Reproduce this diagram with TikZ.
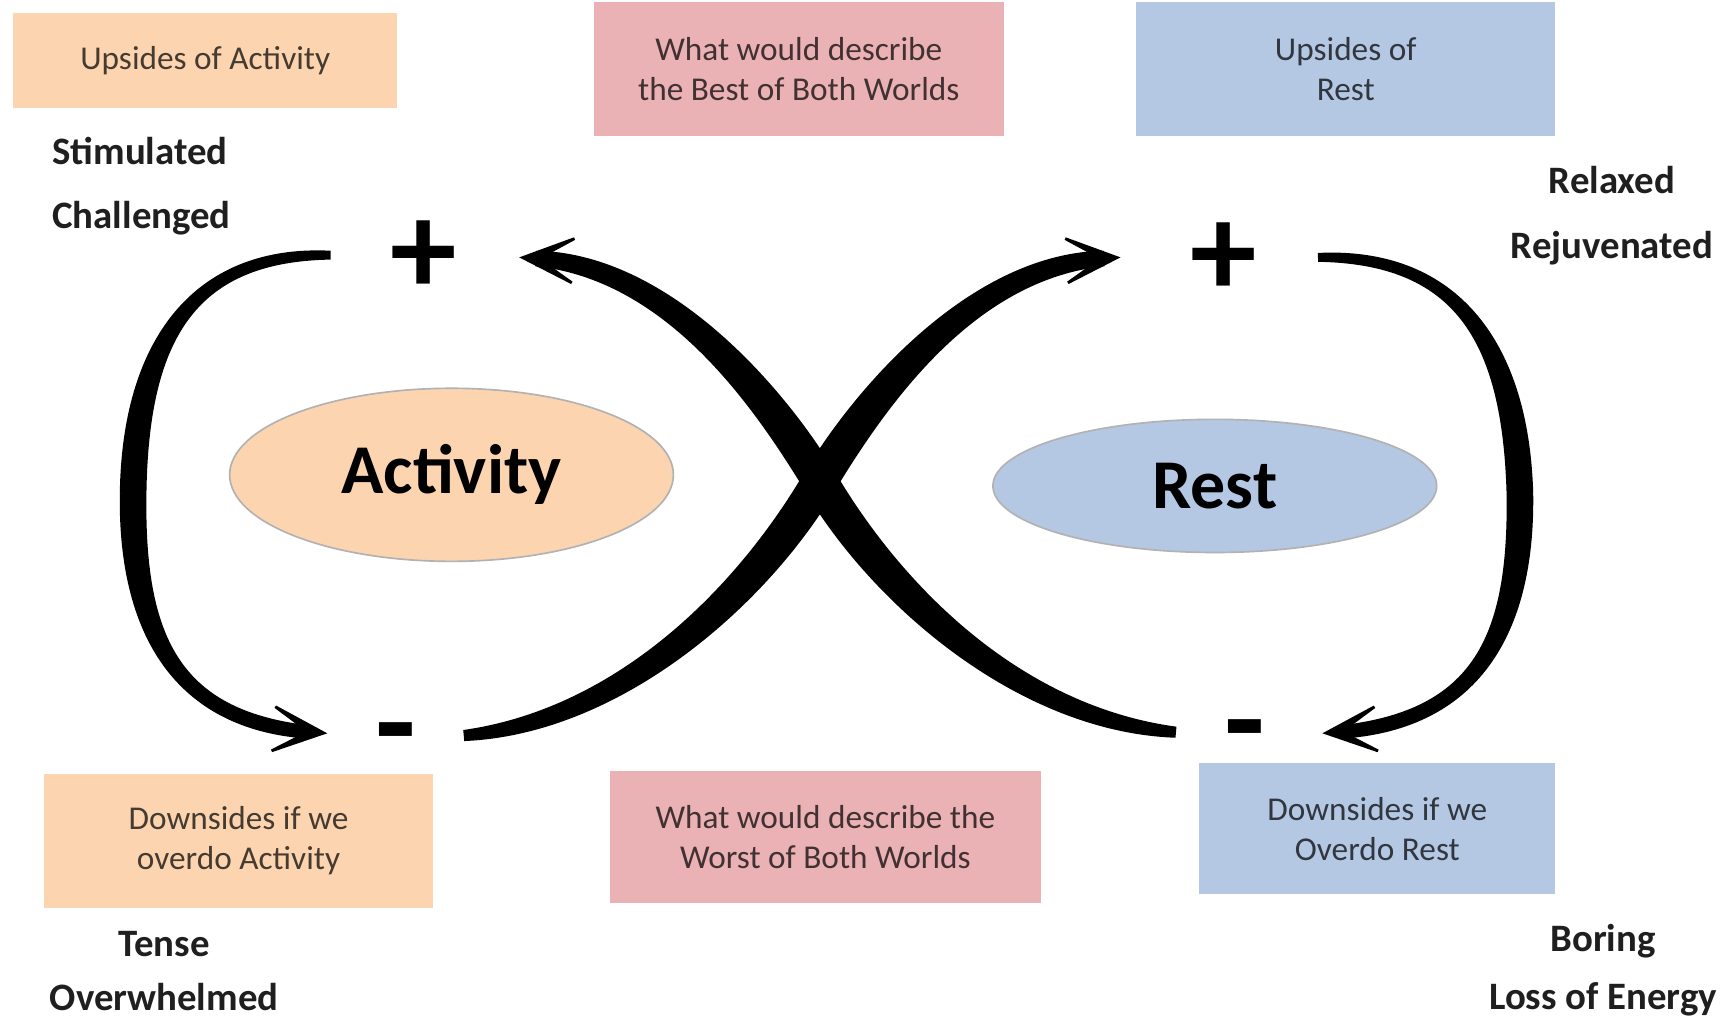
\documentclass[tikz,border=0pt]{standalone}
\usepackage{fontspec}
\setmainfont{Carlito}
\usetikzlibrary{calc,arrows.meta,shapes.geometric}
\definecolor{peach}{HTML}{FCD5B0}
\definecolor{rosy}{HTML}{EBB2B5}
\definecolor{sky}{HTML}{B4C8E4}
\definecolor{ink}{HTML}{000000}
% tapered filled cubic: P0 P1 P2 P3 and half widths at each
\newcommand\taperfill[8]{%
  \fill[ink] ($(#1)!#5!90:(#2)$) .. controls ($(#2)!#6!-90:(#1)$) and ($(#3)!#7!90:(#4)$) .. ($(#4)!#8!-90:(#3)$)
   -- ($(#4)!#8!90:(#3)$) .. controls ($(#3)!#7!-90:(#4)$) and ($(#2)!#6!90:(#1)$) .. ($(#1)!#5!-90:(#2)$) -- cycle;}
\begin{document}
\begin{tikzpicture}[x=1pt,y=1pt,
  box/.style={rectangle, inner sep=0pt, align=center, text=black, text opacity=0.72,
    font=\fontsize{30}{36}\selectfont},
  word/.style={font=\bfseries\fontsize{35}{40}\selectfont, text=black!88, inner sep=0pt},
  sign/.style={font=\bfseries\fontsize{120}{120}\selectfont, inner sep=0pt},
  hub/.style={ellipse, inner sep=0pt, line width=1.5pt, font=\bfseries\fontsize{63}{70}\selectfont},
  headstyle/.style={-{Stealth[length=64pt,width=56pt,inset=45pt]}, line width=2.5pt, draw=ink}
]
\useasboundingbox (0,0) rectangle (1563,-920);
\fill[white] (0,0) rectangle (1563,-920);

% boxes
\node[box, fill=peach, minimum width=346pt, minimum height=85pt] (upA) at (185,-54.5) {Upsides of Activity};
\node[box, fill=rosy, minimum width=370pt, minimum height=121pt] (best) at (720,-62.5) {What would describe\\the Best of Both Worlds};
\node[box, fill=sky, minimum width=378pt, minimum height=121pt] (upR) at (1213,-62.5) {Upsides of\\Rest};
\node[box, fill=peach, minimum width=350pt, minimum height=120pt] (downA) at (215,-758) {Downsides if we\\overdo Activity};
\node[box, fill=rosy, minimum width=388pt, minimum height=119pt] (worst) at (744,-754.5) {What would describe the\\Worst of Both Worlds};
\node[box, fill=sky, minimum width=321pt, minimum height=118pt] (downR) at (1241.5,-747) {Downsides if we\\Overdo Rest};

% words
\node[word, anchor=base west] (w1) at (47,-148) {Stimulated};
\node[word, anchor=base west] (w2) at (47,-206) {Challenged};
\node[word, anchor=base] (w3) at (1453,-174) {Relaxed};
\node[word, anchor=base] (w4) at (1453,-233) {Rejuvenated};
\node[word, anchor=base] (w5) at (148,-862) {Tense};
\node[word, anchor=base] (w6) at (148,-911) {Overwhelmed};
\node[word, anchor=base] (w7) at (1445,-858) {Boring};
\node[word, anchor=base] (w8) at (1445,-910) {Loss of Energy};

% hubs
\node[hub, fill=peach, draw=black!30, minimum width=400pt, minimum height=156pt] (act) at (407,-428) {Activity};
\node[hub, fill=sky, draw=black!30, minimum width=400pt, minimum height=120pt] (rest) at (1095,-438) {Rest};

% signs
\node[sign] (plusL) at (382,-232) {+};
\node[sign] (plusR) at (1103,-234) {+};
\node[sign, anchor=base] (minusL) at (357,-692) {-};
\node[sign, anchor=base] (minusR) at (1122,-689) {-};

% left bracket
\coordinate (lA0) at (298,-230); \coordinate (lA1) at (180,-228);
\coordinate (lA2) at (122,-300); \coordinate (lA3) at (120,-445);
\coordinate (lB1) at (118,-580); \coordinate (lB2) at (165,-650);
\coordinate (lB3) at (280,-660); \coordinate (tipL) at (295,-661);
\taperfill{lA0}{lA1}{lA2}{lA3}{4pt}{8pt}{12pt}{12pt}
\taperfill{lA3}{lB1}{lB2}{lB3}{12pt}{12pt}{9pt}{6pt}
\fill[ink] (lA3) circle (11.5pt);
\draw[headstyle] ($(tipL)!30pt!(lB2)$) -- (tipL);

% right bracket
\coordinate (rA0) at (1188,-232); \coordinate (rA1) at (1308,-230);
\coordinate (rA2) at (1366,-302); \coordinate (rA3) at (1370,-445);
\coordinate (rB1) at (1372,-580); \coordinate (rB2) at (1325,-650);
\coordinate (rB3) at (1207,-660); \coordinate (tipR) at (1192,-661);
\taperfill{rA0}{rA1}{rA2}{rA3}{4pt}{8pt}{12pt}{12pt}
\taperfill{rA3}{rB1}{rB2}{rB3}{12pt}{12pt}{9pt}{6pt}
\fill[ink] (rA3) circle (11.5pt);
\draw[headstyle] ($(tipR)!30pt!(rB2)$) -- (tipR);

% X stroke 1: left minus to right plus
\coordinate (xa0) at (418,-663); \coordinate (xa1) at (560,-650);
\coordinate (xa2) at (680,-535); \coordinate (xa3) at (740,-432);
\coordinate (xb1) at (790,-350); \coordinate (xb2) at (880,-240);
\coordinate (xb3) at (995,-233); \coordinate (tipX) at (1010,-232);
\taperfill{xa0}{xa1}{xa2}{xa3}{5pt}{12pt}{16pt}{16pt}
\taperfill{xa3}{xb1}{xb2}{xb3}{16pt}{16pt}{12pt}{7pt}
\fill[ink] (xa3) circle (15.5pt);
\draw[headstyle] ($(tipX)!30pt!(xb2)$) -- (tipX);

% X stroke 2: right minus to left plus
\coordinate (ya0) at (1060,-660); \coordinate (ya1) at (918,-648);
\coordinate (ya2) at (798,-535); \coordinate (ya3) at (738,-432);
\coordinate (yb1) at (688,-350); \coordinate (yb2) at (598,-240);
\coordinate (yb3) at (483,-233); \coordinate (tipY) at (468,-232);
\taperfill{ya0}{ya1}{ya2}{ya3}{5pt}{12pt}{16pt}{16pt}
\taperfill{ya3}{yb1}{yb2}{yb3}{16pt}{16pt}{12pt}{7pt}
\fill[ink] (ya3) circle (15.5pt);
\draw[headstyle] ($(tipY)!30pt!(yb2)$) -- (tipY);
\end{tikzpicture}
\end{document}
